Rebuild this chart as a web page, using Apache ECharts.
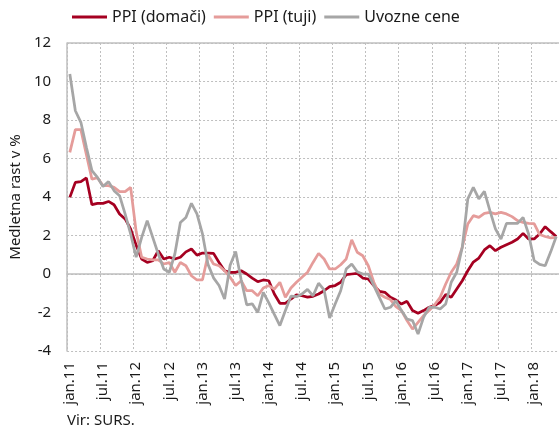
<!DOCTYPE html>
<html>
<head>
<meta charset="utf-8">
<script src="https://cdn.jsdelivr.net/npm/echarts@6/dist/echarts.min.js"></script>
<style>
html,body{margin:0;padding:0;background:#fff;}
#c{width:559px;height:432px;}
</style>
</head>
<body>
<div id="c"></div>
<script>
const monthNames = ["jan","feb","mar","apr","maj","jun","jul","avg","sep","okt","nov","dec"];
const years = ["11","12","13","14","15","16","17","18"];
const categories = [];
for (const y of years) for (const m of monthNames) categories.push(m + "." + y);
categories.length = 89; // jan.11 .. maj.18

const ppiDomaci = [
 3.98,4.76,4.80,4.99,3.60,3.67,3.67,3.77,3.60,3.12,2.86,2.34,
 1.50,0.78,0.60,0.69,1.21,0.78,0.87,0.78,0.87,1.15,1.30,0.98,
 1.09,1.09,1.07,0.60,0.17,0.09,0.09,0.17,0.00,-0.21,-0.40,-0.31,
 -0.35,-1.04,-1.52,-1.52,-1.30,-1.09,-1.13,-1.20,-1.16,-1.04,-0.87,-0.66,
 -0.60,-0.43,-0.03,0.00,0.03,-0.21,-0.26,-0.60,-0.90,-0.95,-1.21,-1.35,
 -1.56,-1.42,-1.90,-2.04,-1.90,-1.73,-1.64,-1.47,-1.07,-1.21,-0.78,-0.35,
 0.17,0.62,0.83,1.25,1.47,1.21,1.39,1.52,1.65,1.82,2.11,1.82,
 1.82,2.08,2.46,2.20,1.95
];
const ppiTuji = [
 6.32,7.50,7.50,6.20,4.93,5.00,4.59,4.59,4.50,4.28,4.28,4.50,
 2.20,0.87,0.78,0.73,0.73,0.52,0.60,0.09,0.60,0.43,-0.09,-0.31,
 -0.30,1.00,0.52,0.43,0.17,-0.17,-0.60,-0.35,-0.87,-0.87,-1.13,-0.73,
 -0.60,-0.78,-0.43,-1.21,-0.73,-0.43,-0.17,0.09,0.60,1.07,0.78,0.26,
 0.26,0.48,0.78,1.77,1.13,0.95,0.43,-0.43,-1.04,-1.21,-1.33,-1.70,
 -1.90,-2.42,-2.86,-2.51,-2.16,-1.90,-1.60,-1.21,-0.52,0.09,0.52,1.39,
 2.60,3.03,2.94,3.15,3.20,3.12,3.20,3.12,2.98,2.77,2.68,2.63,
 2.62,2.05,1.95,1.88,1.90
];
const uvozneCene = [
 10.39,8.48,7.88,6.58,5.37,5.02,4.54,4.80,4.33,4.07,3.12,2.08,
 0.87,1.90,2.77,1.90,1.04,0.26,0.09,1.04,2.68,2.94,3.67,3.12,
 2.08,0.50,-0.20,-0.60,-1.30,0.45,1.17,-0.30,-1.60,-1.55,-2.00,-0.95,
 -1.50,-2.10,-2.68,-1.90,-1.15,-1.18,-1.04,-0.80,-1.13,-0.48,-0.83,-2.29,
 -1.56,-0.87,0.26,0.52,0.12,0.00,0.00,-0.60,-1.21,-1.82,-1.73,-1.39,
 -1.90,-2.34,-2.42,-3.12,-2.25,-1.73,-1.73,-1.82,-1.56,-0.43,0.09,1.39,
 3.90,4.50,3.90,4.29,3.29,2.34,1.82,2.63,2.63,2.63,2.94,2.08,
 0.70,0.50,0.43,1.15,1.95
];
const seriesNames = ["PPI (domači)", "PPI (tuji)", "Uvozne cene"];
const yTicks = {min: -4, max: 12, interval: 2};

const FONT = "Noto Sans";
const chart = echarts.init(document.getElementById('c'), null, {renderer: 'canvas'});
const mk = (name, data, color) => ({
  name, type: 'line', data, symbol: 'none', smooth: false,
  lineStyle: {color, width: 2.75}, itemStyle: {color}, z: 3
});
chart.setOption({
  animation: false,
  textStyle: {fontFamily: FONT},
  legend: {
    top: 9, left: 72, padding: 0, icon: 'rect', itemWidth: 35, itemHeight: 3, itemGap: 8,
    textStyle: {fontFamily: FONT, fontSize: 16, color: '#1a1a1a'},
    data: seriesNames
  },
  grid: {left: 67, top: 43, bottom: 81, right: -5, show: false},
  xAxis: {
    type: 'category', data: categories, boundaryGap: true,
    axisLine: {show: true, lineStyle: {color: '#BFBFBF', width: 1.5}},
    axisTick: {show: false},
    axisLabel: {interval: 5, rotate: 90, margin: 11, fontSize: 15, fontFamily: FONT, color: '#1a1a1a'},
    splitLine: {show: true, interval: 5, lineStyle: {color: '#BFBFBF', type: [2,2], width: 1}}
  },
  yAxis: {
    type: 'value', min: yTicks.min, max: yTicks.max, interval: yTicks.interval,
    name: 'Medletna rast v %', nameLocation: 'middle', nameGap: 44,
    nameTextStyle: {fontSize: 15, fontFamily: FONT, color: '#1a1a1a'},
    axisLine: {show: true, lineStyle: {color: '#BFBFBF', width: 1.5}},
    axisTick: {show: false},
    axisLabel: {fontSize: 15, fontFamily: FONT, color: '#1a1a1a', margin: 16},
    splitLine: {show: true, lineStyle: {color: '#BFBFBF', type: [2,2], width: 1}}
  },
  graphic: [
    {type: 'line', shape: {x1: 67, y1: 43, x2: 559, y2: 43}, style: {stroke: '#BFBFBF', lineWidth: 1.5}, silent: true},
    {type: 'text', left: 67, top: 413, style: {text: 'Vir: SURS.', fontSize: 15, fontFamily: FONT, fill: '#1a1a1a'}}
  ],
  series: [
    mk(seriesNames[0], ppiDomaci, '#A50021'),
    mk(seriesNames[1], ppiTuji, '#E59C9A'),
    mk(seriesNames[2], uvozneCene, '#A6A6A6')
  ]
});
</script>
</body>
</html>
